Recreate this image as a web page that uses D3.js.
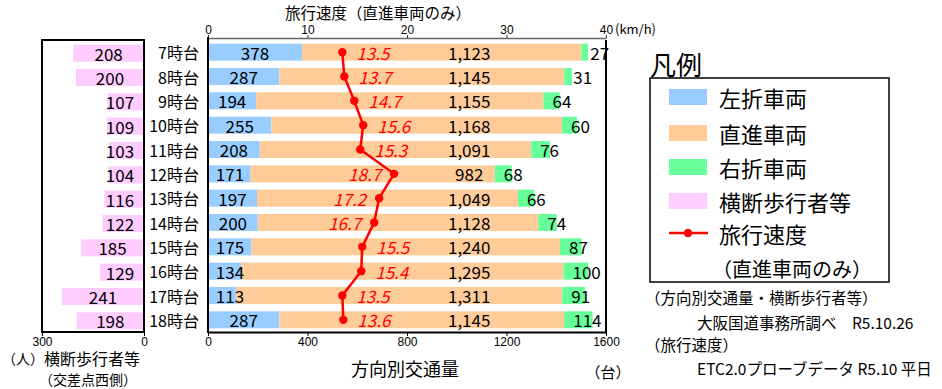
<!DOCTYPE html>
<html><head><meta charset="utf-8">
<script src="https://cdn.jsdelivr.net/npm/d3@7"></script>
<style>
html,body{margin:0;padding:0;background:#fff;}
svg{display:block;font-family:"Noto Sans CJK JP","Noto Sans",sans-serif;}
</style></head>
<body><svg id="c" width="942" height="389"></svg>
<script>
const hours = ["7時台","8時台","9時台","10時台","11時台","12時台","13時台","14時台","15時台","16時台","17時台","18時台"];
const leftTurn = [378,287,194,255,208,171,197,200,175,134,113,287];
const straight = [1123,1145,1155,1168,1091,982,1049,1128,1240,1295,1311,1145];
const rightTurn = [27,31,64,60,76,68,66,74,87,100,91,114];
const pedestrians = [208,200,107,109,103,104,116,122,185,129,241,198];
const speed = [13.5,13.7,14.7,15.6,15.3,18.7,17.2,16.7,15.5,15.4,13.5,13.6];
const volumeTicks = [0,400,800,1200,1600];
const speedTicks = [0,10,20,30,40];
const pedTicks = [300,0];
const colors = {left:"#99CCFF", straight:"#FFCC99", right:"#66FF99", ped:"#FFCCFF", speed:"#FF0000"};
const legendItems = ["左折車両","直進車両","右折車両","横断歩行者等"];

const svg = d3.select("#c");
const fmt = d3.format(",");
const tickFont = "Liberation Sans, Arial, sans-serif";

const y = d3.scaleBand().domain(hours).range([40,332]).paddingInner(0.3).paddingOuter(0.15);
const x = d3.scaleLinear().domain([0,1600]).range([208,606]);
const xs = d3.scaleLinear().domain([0,40]).range([208,606]);
const xp = d3.scaleLinear().domain([300,0]).range([42,144]);

const rows = hours.map((h,i)=>({h, l:leftTurn[i], s:straight[i], r:rightTurn[i], p:pedestrians[i], v:speed[i]}));

// ---- left panel (pedestrians)
const gp = svg.append("g");
gp.selectAll("rect.p").data(rows).join("rect")
  .attr("x", d=>xp(d.p)).attr("y", d=>y(d.h)+1)
  .attr("width", d=>xp(0)-xp(d.p)).attr("height", y.bandwidth())
  .attr("fill", colors.ped);
gp.selectAll("text.p").data(rows).join("text")
  .attr("x", d=>Math.min((xp(d.p)+xp(0))/2, 120)).attr("y", d=>y(d.h)+y.bandwidth()/2+1)
  .attr("text-anchor","middle").attr("dominant-baseline","central")
  .attr("font-size",17).text(d=>d.p);
gp.append("path").attr("d",`M${xp(0)},332 L${xp(300)},332 L${xp(300)},40 L${xp(0)},40 Z`)
  .attr("fill","none").attr("stroke","#000").attr("stroke-width",2);
const axP = svg.append("g").attr("transform","translate(0,332)")
  .call(d3.axisBottom(xp).tickValues(pedTicks).tickSize(4).tickSizeOuter(0));
axP.select(".domain").remove();
axP.selectAll("text").attr("font-size",12).attr("font-family",tickFont).attr("y",14).attr("dy",0);
axP.selectAll("line").attr("stroke","#000");

// category labels
svg.selectAll("text.cat").data(rows).join("text")
  .attr("x",199).attr("y", d=>y(d.h)+y.bandwidth()/2)
  .attr("text-anchor","end").attr("dominant-baseline","central")
  .attr("font-size",16).text(d=>d.h);

// ---- main stacked bars
const gm = svg.append("g");
gm.selectAll("rect.l").data(rows).join("rect")
  .attr("x", x(0)).attr("y", d=>y(d.h)).attr("width", d=>x(d.l)-x(0)).attr("height", y.bandwidth())
  .attr("fill", colors.left);
gm.selectAll("rect.s").data(rows).join("rect")
  .attr("x", d=>x(d.l)).attr("y", d=>y(d.h)).attr("width", d=>x(d.l+d.s)-x(d.l)).attr("height", y.bandwidth())
  .attr("fill", colors.straight);
gm.selectAll("rect.r").data(rows).join("rect")
  .attr("x", d=>x(d.l+d.s)).attr("y", d=>y(d.h)).attr("width", d=>x(d.l+d.s+d.r)-x(d.l+d.s)).attr("height", y.bandwidth())
  .attr("fill", colors.right);

const cy = d=>y(d.h)+y.bandwidth()/2;
gm.selectAll("text.l").data(rows).join("text")
  .attr("x", d=>Math.max((x(0)+x(d.l))/2, 230)).attr("y", cy)
  .attr("text-anchor","middle").attr("dominant-baseline","central").attr("font-size",17).text(d=>d.l);
gm.selectAll("text.s").data(rows).join("text")
  .attr("x", x(1050)).attr("y", cy)
  .attr("text-anchor","middle").attr("dominant-baseline","central").attr("font-size",17).text(d=>fmt(d.s));
gm.selectAll("text.r").data(rows).join("text")
  .attr("x", d=>x(d.l+d.s)+9).attr("y", cy)
  .attr("text-anchor","start").attr("dominant-baseline","central").attr("font-size",17).text(d=>d.r);

// ---- speed line
const line = d3.line().x(d=>xs(d.v)).y(cy);
gm.append("path").datum(rows).attr("d", line).attr("fill","none")
  .attr("stroke", colors.speed).attr("stroke-width",2.5);
gm.selectAll("circle.v").data(rows).join("circle")
  .attr("cx", d=>xs(d.v)).attr("cy", cy).attr("r",4.2).attr("fill", colors.speed);
gm.selectAll("text.v").data(rows).join("text")
  .attr("x", d=> d.v>=16.5 ? xs(d.v)-13 : xs(d.v)+14).attr("y", cy)
  .attr("text-anchor", d=> d.v>=16.5 ? "end" : "start")
  .attr("dominant-baseline","central").attr("font-size",17).attr("font-style","italic")
  .attr("fill", colors.speed).text(d=>d.v.toFixed(1));

// ---- axes / frame
const axB = svg.append("g").attr("transform","translate(0,332)")
  .call(d3.axisBottom(x).tickValues(volumeTicks).tickFormat(d3.format("d")).tickSize(4).tickSizeOuter(0));
axB.select(".domain").attr("stroke","#000").attr("stroke-width",2);
axB.selectAll("text").attr("font-size",12).attr("font-family",tickFont).attr("y",14).attr("dy",0);

const axT = svg.append("g").attr("transform","translate(0,38)")
  .call(d3.axisTop(xs).tickValues(speedTicks).tickSize(3).tickSizeOuter(0));
axT.select(".domain").attr("stroke","#666").attr("stroke-width",1.5);
axT.selectAll("line").attr("stroke","#333");
axT.selectAll("text").attr("font-size",12).attr("font-family",tickFont).attr("y",-4).attr("dy",0);

svg.append("line").attr("x1",x(0)).attr("x2",x(0)).attr("y1",37).attr("y2",333).attr("stroke","#000").attr("stroke-width",2);
svg.append("line").attr("x1",x(1600)).attr("x2",x(1600)).attr("y1",40).attr("y2",333).attr("stroke","#000").attr("stroke-width",2);

// ---- titles
svg.append("text").attr("x",378).attr("y",12).attr("text-anchor","middle").attr("dominant-baseline","central")
  .attr("font-size",15.5).text("旅行速度（直進車両のみ）");
svg.append("text").attr("x",615).attr("y",28).attr("dominant-baseline","central")
  .attr("font-size",13).text("(km/h)");
svg.append("text").attr("x",405).attr("y",368).attr("text-anchor","middle").attr("dominant-baseline","central")
  .attr("font-size",18).text("方向別交通量");
svg.append("text").attr("x",608).attr("y",371).attr("text-anchor","middle").attr("dominant-baseline","central")
  .attr("font-size",15).text("（台）");
svg.append("text").attr("x",2).attr("y",358).attr("dominant-baseline","central")
  .attr("font-size",14).text("（人）");
svg.append("text").attr("x",44).attr("y",358).attr("dominant-baseline","central")
  .attr("font-size",16).text("横断歩行者等");
svg.append("text").attr("x",39).attr("y",379).attr("dominant-baseline","central")
  .attr("font-size",14).text("（交差点西側）");

// ---- legend
svg.append("text").attr("x",650).attr("y",63).attr("dominant-baseline","central")
  .attr("font-size",26).text("凡例");
svg.append("rect").attr("x",650).attr("y",78).attr("width",239).attr("height",204)
  .attr("fill","none").attr("stroke","#000").attr("stroke-width",1.5);
const legColors = [colors.left, colors.straight, colors.right, colors.ped];
const legY = [97,133,167,201];
legendItems.forEach((t,i)=>{
  svg.append("rect").attr("x",669).attr("y",legY[i]-8).attr("width",38).attr("height",16).attr("fill",legColors[i]);
  svg.append("text").attr("x",719).attr("y",legY[i]).attr("dominant-baseline","central").attr("font-size",22).text(t);
});
svg.append("line").attr("x1",669).attr("x2",708).attr("y1",233).attr("y2",233).attr("stroke",colors.speed).attr("stroke-width",2.5);
svg.append("circle").attr("cx",688).attr("cy",233).attr("r",4.2).attr("fill",colors.speed);
svg.append("text").attr("x",719).attr("y",233).attr("dominant-baseline","central").attr("font-size",22).text("旅行速度");
svg.append("text").attr("x",712).attr("y",268).attr("dominant-baseline","central").attr("font-size",20).text("（直進車両のみ）");

// ---- notes
const notes = [
  {t:"（方向別交通量・横断歩行者等）", x:645, y:297},
  {t:"大阪国道事務所調べ　R5.10.26", x:697, y:322},
  {t:"（旅行速度）", x:645, y:344},
  {t:"ETC2.0プローブデータ R5.10 平日", x:697, y:368}
];
notes.forEach(n=>{
  svg.append("text").attr("x",n.x).attr("y",n.y).attr("dominant-baseline","central").attr("font-size",15.5).text(n.t);
});
</script></body></html>
